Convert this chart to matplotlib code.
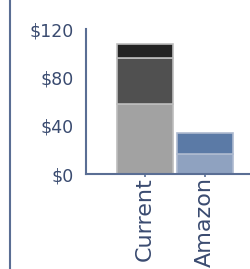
import matplotlib
matplotlib.use('Agg')
import matplotlib.pyplot as plt
from matplotlib.lines import Line2D
import numpy as np

# chart data
categories = ['Current', 'Amazon']
current_parts = [58, 38, 12]
amazon_parts = [17, 17]
current_colors = ['#a2a2a2', '#505050', '#232323']
amazon_colors = ['#8fa2c0', '#5b7aa6']
yticks = [0, 40, 80, 120]
ytick_labels = ['$0', '$40', '$80', '$120']

axis_color = '#5a6e94'
text_color = '#3a4b70'

fig = plt.figure(figsize=(2.5, 2.69), dpi=100)
ax = fig.add_axes([0.344, 0.353, 0.656, 0.539])

x = np.arange(len(categories))
width = 0.93

bottom = 0
for val, col in zip(current_parts, current_colors):
    ax.bar(x[0], val, width, bottom=bottom, color=col, edgecolor='#bdbdbd', linewidth=1.2)
    bottom += val

bottom = 0
for val, col in zip(amazon_parts, amazon_colors):
    ax.bar(x[1], val, width, bottom=bottom, color=col, edgecolor='#aebad0', linewidth=1.2)
    bottom += val

ax.set_xlim(-0.983, 1.75)
ax.set_ylim(0, 120)
ax.set_yticks(yticks)
ax.set_yticklabels(ytick_labels)
ax.set_xticks(x)
ax.set_xticklabels(categories, rotation=90, va='top', ha='center')

for s in ['top', 'right']:
    ax.spines[s].set_visible(False)
for s in ['left', 'bottom']:
    ax.spines[s].set_color(axis_color)
    ax.spines[s].set_linewidth(1.5)

ax.tick_params(axis='y', length=0, pad=9, labelsize=12.5, labelcolor=text_color)
ax.tick_params(axis='x', length=2, width=1.2, color=axis_color, pad=0,
               labelsize=16, labelcolor=text_color)

# border line on the far left
fig.add_artist(Line2D([0.04, 0.04], [0, 1], transform=fig.transFigure,
                      color=axis_color, linewidth=1.5))

fig.savefig('out.png', dpi=100)
